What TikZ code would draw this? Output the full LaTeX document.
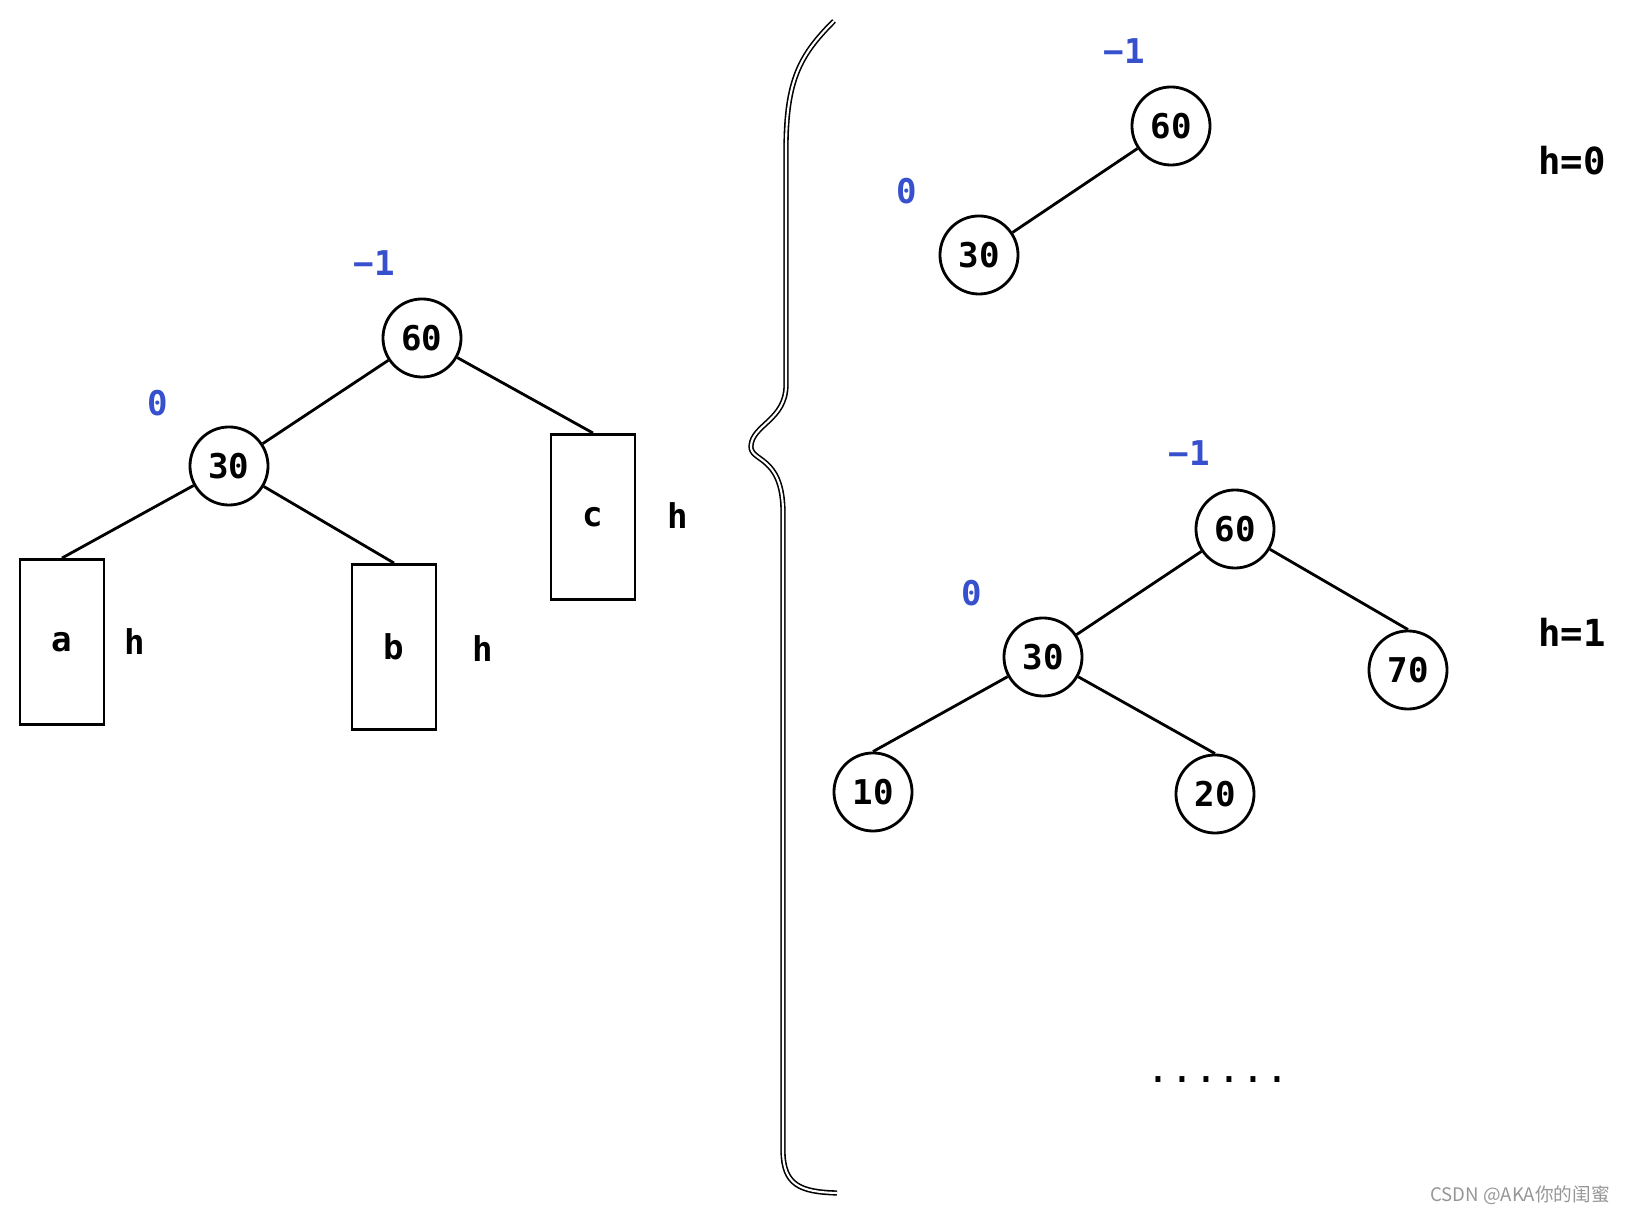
\documentclass[tikz,border=0pt]{standalone}
\usepackage{fontspec}
\setmonofont{DejaVu Sans Mono}
\newfontfamily\cjkfont{Noto Sans CJK SC}
\usetikzlibrary{positioning}
\definecolor{bfblue}{RGB}{55,80,205}
\definecolor{wmgray}{RGB}{150,150,150}

\begin{document}
\begin{tikzpicture}[x=0.01cm, y=-0.01cm, line width=0.8pt,
		txt/.style={font=\fontsize{9.7}{11}\selectfont\ttfamily\bfseries},
		nd/.style={txt, draw, circle, minimum size=0.78cm, inner sep=0pt},
		leaf/.style={txt, draw, rectangle, minimum width=0.84cm, minimum height=1.65cm, inner sep=0pt},
		bf/.style={txt, text=bfblue},
		lvl/.style={font=\fontsize{10.6}{12}\selectfont\ttfamily\bfseries}]
			\useasboundingbox (0,0) rectangle (1629,1216);

			% left: subtrees a, b, c of height h
			\node[nd] (l60) at (422,338) {60};
			\node[nd] (l30) at (229,466) {30};
			\node[leaf] (la) at (62,642) {a};
			\node[leaf] (lb) at (394,647) {b};
			\node[leaf] (lc) at (593,517) {c};
			\node[bf] (l60bf) at (374,263) {−1};
			\node[bf] (l30bf) at (158,403) {0};
			\node[txt] (lah) at (135,642) {h};
			\node[txt] (lbh) at (483,649) {h};
			\node[txt] (lch) at (678,516) {h};
			\draw (l60) -- (l30);
			\draw (l60) -- (lc.north);
			\draw (l30) -- (la.north);
			\draw (l30) -- (lb.north);

			% brace
			\draw[double, double distance=0.6pt, line width=0.45pt] (834,21) .. controls (800,55) and (786,80) .. (786,150) -- (786,385)
				.. controls (786,420) and (752,425) .. (751,446) .. controls (750,462) and (782,455) .. (783,510)
				-- (783,1150) .. controls (783,1185) and (800,1192) .. (837,1193);

			% h=0
			\node[nd] (t60) at (1171,126) {60};
			\node[nd] (t30) at (979,255) {30};
			\node[bf] (t60bf) at (1124,51) {−1};
			\node[bf] (t30bf) at (907,191) {0};
			\node[lvl] (th) at (1572,161) {h=0};
			\draw (t60) -- (t30);

			% h=1
			\node[nd] (b60) at (1235,529) {60};
			\node[nd] (b30) at (1043,657) {30};
			\node[nd] (b70) at (1408,670) {70};
			\node[nd] (b10) at (873,792) {10};
			\node[nd] (b20) at (1215,794) {20};
			\node[bf] (b60bf) at (1189,453) {−1};
			\node[bf] (b30bf) at (972,593) {0};
			\node[lvl] (bh) at (1572,632) {h=1};
			\draw (b60) -- (b30);
			\draw (b60) -- (b70.north);
			\draw (b30) -- (b10.north);
			\draw (b30) -- (b20.north);

			\node[font=\fontsize{11.3}{13}\selectfont\ttfamily] (more) at (1218,1080) {......};
			\node[text=wmgray, font=\fontsize{5.3}{6}\selectfont\cjkfont] (mark) at (1520,1195) {CSDN @AKA你的闺蜜};
		\end{tikzpicture}
\end{document}
